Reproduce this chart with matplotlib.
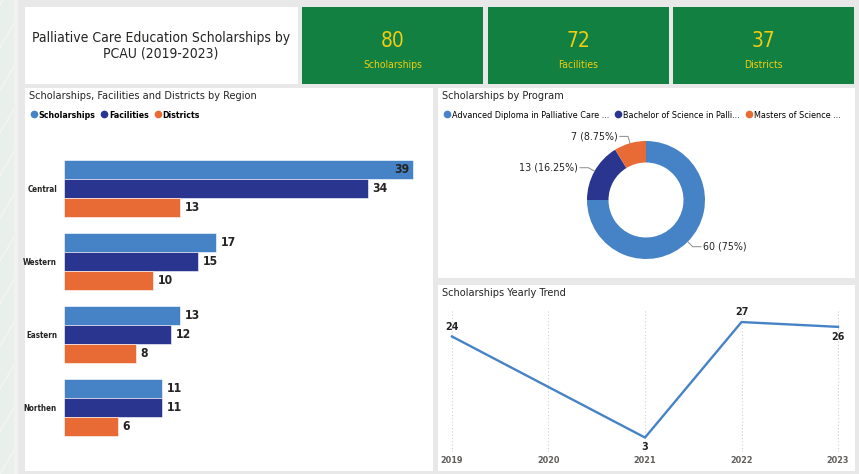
import numpy as np
import matplotlib.pyplot as plt
from matplotlib.patches import Rectangle
from matplotlib.lines import Line2D

plt.rcParams['font.family'] = ['DejaVu Sans']
plt.rcParams['font.stretch'] = 'condensed'

# data
regions = ['Central', 'Western', 'Eastern', 'Northen']
scholarships = [39, 17, 13, 11]
facilities = [34, 15, 12, 11]
districts = [13, 10, 8, 6]

programs = ['Advanced Diploma in Palliative Care ...',
            'Bachelor of Science in Palli...',
            'Masters of Science ...']
program_counts = [60, 13, 7]

year_ticks = [2019, 2020, 2021, 2022, 2023]
trend_years = [2019, 2021, 2022, 2023]
trend_values = [24, 3, 27, 26]

kpi_labels = ['Scholarships', 'Facilities', 'Districts']
kpi_values = [sum(scholarships), sum(facilities), sum(districts)]

BLUE = '#4683c6'
NAVY = '#2a3590'
ORANGE = '#e86b35'
GREEN = '#118040'
YELLOW = '#f0cc12'
TXT = '#252423'

W, H = 859, 474
fig = plt.figure(figsize=(W / 100, H / 100), dpi=100)
fig.patch.set_facecolor('#e8e8e8')


def box(x0, y0, x1, y1):
    return [x0 / W, 1 - y1 / H, (x1 - x0) / W, (y1 - y0) / H]


def panel(x0, y0, x1, y1, color='white'):
    l, b, w, h = box(x0, y0, x1, y1)
    fig.patches.append(Rectangle((l, b), w, h, transform=fig.transFigure,
                                 facecolor=color, edgecolor='none', zorder=-5))


def ftext(x, y, s, **kw):
    fig.text(x / W, 1 - y / H, s, **kw)


# left strip
panel(0, 0, 14, H, '#e9efea')
panel(14, 0, 18, H, '#f1f1f1')
for k in range(-2, 12):
    fig.add_artist(Line2D([0, 14 / W], [k * 0.09, k * 0.09 + 0.05],
                          color='white', lw=0.8, alpha=0.5, zorder=-4))

# header
panel(25, 7, 298, 84)
ftext(161, 46, 'Palliative Care Education Scholarships by\nPCAU (2019-2023)',
      ha='center', va='center', fontsize=10, color=TXT, linespacing=1.1)
cards = [(302, 483), (488, 669), (673, 854)]
for (x0, x1), val, lab in zip(cards, kpi_values, kpi_labels):
    panel(x0, 7, x1, 84, GREEN)
    cx = (x0 + x1) / 2
    ftext(cx, 41, str(val), ha='center', va='center', fontsize=15, color=YELLOW)
    ftext(cx, 65, lab, ha='center', va='center', fontsize=7.5, color=YELLOW)

# panels
panel(25, 88, 433, 471)
panel(438, 88, 855, 278)
panel(438, 285, 855, 471)

# bar chart by region
ftext(29, 96, 'Scholarships, Facilities and Districts by Region',
      ha='left', va='center', fontsize=7.8, color=TXT)
handles = [Line2D([], [], marker='o', ls='', color=c, markersize=4.5)
           for c in (BLUE, NAVY, ORANGE)]
fig.legend(handles, ['Scholarships', 'Facilities', 'Districts'],
           loc='center left', bbox_to_anchor=(26 / W, 1 - 115 / H), ncol=3,
           frameon=False, handletextpad=0.05, columnspacing=0.5,
           handlelength=1.0, borderaxespad=0, prop={'weight': 'bold', 'size': 6.3})

ax = fig.add_axes(box(64, 150, 425, 446))
ax.patch.set_alpha(0)
y = np.arange(len(regions))
h = 0.258
for off, vals, c in [(-h, scholarships, BLUE), (0, facilities, NAVY), (h, districts, ORANGE)]:
    ax.barh(y + off, vals, height=h, color=c, edgecolor='white', linewidth=0.4)
    for yy, v in zip(y + off, vals):
        if v == max(scholarships):
            ax.text(v - 0.4, yy, str(v), ha='right', va='center', fontsize=8.7,
                    fontweight='bold', color=TXT)
        else:
            ax.text(v + 0.5, yy, str(v), ha='left', va='center', fontsize=8.7,
                    fontweight='bold', color=TXT)
ax.set_xlim(0, 39 * 361 / 349)
ax.set_ylim(3.527, -0.527)
ax.set_yticks(y)
ax.set_yticklabels(regions, fontsize=5.8, fontweight='bold', color=TXT)
ax.tick_params(axis='y', length=0, pad=5)
ax.set_xticks([])
for s in ax.spines.values():
    s.set_visible(False)

# donut by program
ftext(442, 96, 'Scholarships by Program', ha='left', va='center', fontsize=7.8, color=TXT)
handles = [Line2D([], [], marker='o', ls='', color=c, markersize=4.5)
           for c in (BLUE, NAVY, ORANGE)]
fig.legend(handles, programs, loc='center left', bbox_to_anchor=(439 / W, 1 - 115 / H),
           ncol=3, frameon=False, handletextpad=0.05, columnspacing=0.5,
           handlelength=1.0, borderaxespad=0, prop={'size': 6.5})

R = 59
ax2 = fig.add_axes(box(646 - R, 200 - R, 646 + R, 200 + R))
wedges, _ = ax2.pie(program_counts, colors=[BLUE, NAVY, ORANGE], startangle=90,
                    counterclock=False, radius=1,
                    wedgeprops=dict(width=1 - 37.5 / R, edgecolor='none'))
ax2.set_xlim(-1, 1)
ax2.set_ylim(-1, 1)
ax2.set_aspect('equal')
total = sum(program_counts)
for wdg, v in zip(wedges, program_counts):
    ang = np.deg2rad((wdg.theta1 + wdg.theta2) / 2)
    cx, cy = np.cos(ang), np.sin(ang)
    p2 = (1.12 * cx, 1.12 * cy)
    sgn = 1 if cx > 0 else -1
    p3 = (p2[0] + sgn * 0.14, p2[1])
    ax2.plot([cx, p2[0], p3[0]], [cy, p2[1], p3[1]], color='#8a8a8a', lw=0.7,
             clip_on=False)
    pct = 100 * v / total
    ax2.text(p3[0] + sgn * 0.03, p3[1], f'{v} ({pct:g}%)', ha='left' if sgn > 0 else 'right',
             va='center', fontsize=7.7, color=TXT, clip_on=False)

# yearly trend
ftext(442, 293, 'Scholarships Yearly Trend', ha='left', va='center', fontsize=7.8, color=TXT)
ax3 = fig.add_axes(box(446, 310, 844, 452))
ax3.patch.set_alpha(0)
ax3.plot(trend_years, trend_values, color=BLUE, lw=1.7)
ax3.set_xlim(2019 - 0.062, 2023 + 0.062)
ax3.set_ylim(0, (452.5 - 310) / 4.83)
ax3.set_xticks(year_ticks)
ax3.set_xticklabels([str(t) for t in year_ticks], fontsize=6.5, fontweight='bold',
                    color='#605e5c')
ax3.tick_params(axis='x', length=0, pad=3)
ax3.set_yticks([])
ax3.grid(axis='x', color='#d0d0d0', ls=(0, (1, 2)), lw=0.8)
for s in ax3.spines.values():
    s.set_visible(False)
for i, (xx, v) in enumerate(zip(trend_years, trend_values)):
    prev = trend_values[i - 1] if i > 0 else None
    below = v == min(trend_values) or (prev is not None and v < prev)
    ax3.text(xx, v + (-1.0 if below else 1.0), str(v), ha='center',
             va='top' if below else 'bottom', fontsize=7.7, fontweight='bold', color=TXT)

fig.savefig('out.png', dpi=100, facecolor=fig.get_facecolor())
